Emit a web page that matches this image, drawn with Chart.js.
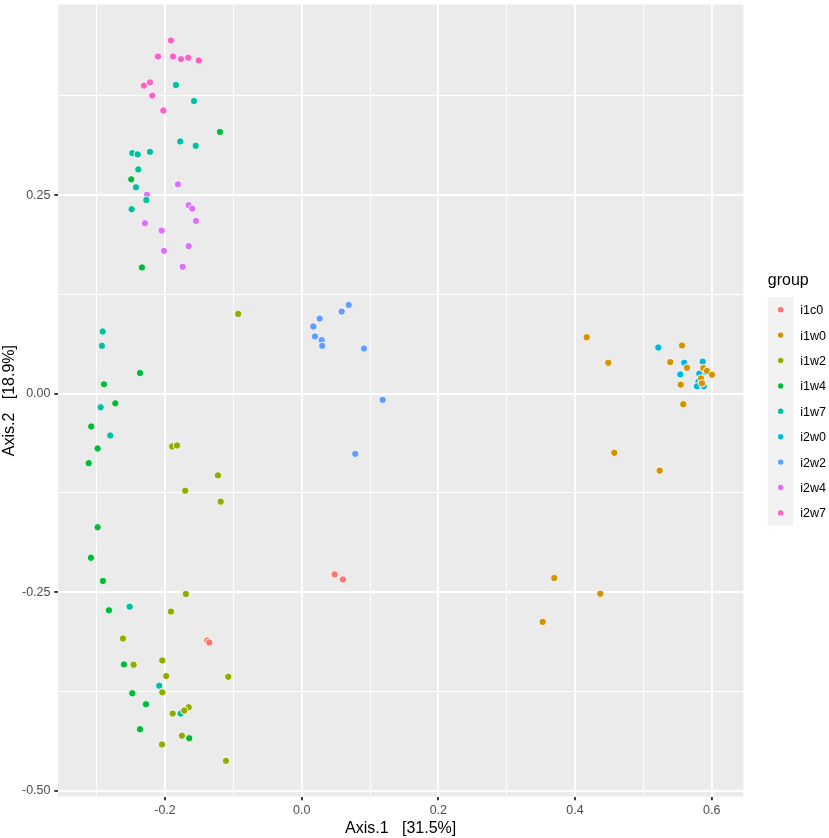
<!DOCTYPE html>
<html><head><meta charset="utf-8">
<script src="https://cdn.jsdelivr.net/npm/chart.js@4.4.0/dist/chart.umd.min.js"></script>
<style>html,body{margin:0;padding:0;background:#fff}canvas{display:block}</style>
</head><body>
<canvas id="c" width="829" height="838"></canvas>
<script>
// ---- data ----
const groups = ['i1c0','i1w0','i1w2','i1w4','i1w7','i2w0','i2w2','i2w4','i2w7'];
const groupColors = ['#F8766D','#D39200','#93AA00','#00BA38','#00C19F','#00B9E3','#619CFF','#DB72FB','#FF61C3'];

const i1c0_x = [-0.1382,-0.1352,0.0483,0.0604];
const i1c0_y = [-0.3108,-0.3133,-0.2276,-0.2339];

const i1w0_x = [0.4171,0.4487,0.4575,0.5239,0.5585,0.3697,0.4370,0.3527,0.5566,0.5394,0.5639,0.5547,0.5877,0.5932,0.6005,0.5844,0.5858];
const i1w0_y = [0.0710,0.0389,-0.0745,-0.0969,-0.0134,-0.2321,-0.2519,-0.2874,0.0606,0.0397,0.0326,0.0113,0.0321,0.0286,0.0238,0.0192,0.0129];

const i1w2_x = [-0.0928,-0.1894,-0.1825,-0.1225,-0.1704,-0.1185,-0.1694,-0.1913,-0.2615,-0.2459,-0.2040,-0.1982,-0.1074,-0.2040,-0.1654,-0.1718,-0.1888,-0.1752,-0.2044,-0.1108];
const i1w2_y = [0.1004,-0.0665,-0.0653,-0.1029,-0.1222,-0.1360,-0.2522,-0.2744,-0.3083,-0.3413,-0.3359,-0.3556,-0.3564,-0.3761,-0.3949,-0.3990,-0.4028,-0.4307,-0.4417,-0.4623];

const i1w4_x = [-0.1196,-0.2494,-0.2337,-0.2366,-0.2893,-0.2728,-0.3079,-0.2986,-0.3117,-0.2986,-0.3084,-0.2908,-0.2820,-0.2601,-0.2479,-0.2279,-0.2366,-0.1645];
const i1w4_y = [0.3295,0.2698,0.1589,0.0259,0.0117,-0.0122,-0.0414,-0.0690,-0.0875,-0.1682,-0.2067,-0.2359,-0.2728,-0.3409,-0.3773,-0.3911,-0.4225,-0.4338];

const i1w7_x = [-0.1840,-0.1576,-0.1777,-0.1551,-0.2479,-0.2400,-0.2220,-0.2391,-0.2425,-0.2274,-0.2488,-0.2912,-0.2923,-0.2942,-0.2801,-0.2517,-0.2084,-0.1771];
const i1w7_y = [0.3885,0.3684,0.3175,0.3120,0.3028,0.3012,0.3044,0.2823,0.2598,0.2438,0.2321,0.0782,0.0602,-0.0172,-0.0527,-0.2682,-0.3677,-0.4028];

const i2w0_x = [0.5219,0.5599,0.5869,0.5541,0.5910,0.5819,0.5807,0.5785,0.5885];
const i2w0_y = [0.0581,0.0389,0.0403,0.0242,0.0271,0.0251,0.0151,0.0092,0.0092];

const i2w2_x = [0.0688,0.0585,0.0263,0.0170,0.0195,0.0293,0.0301,0.0912,0.1185,0.0784];
const i2w2_y = [0.1117,0.1033,0.0945,0.0845,0.0719,0.0673,0.0602,0.0568,-0.0078,-0.0758];

const i2w4_x = [-0.1810,-0.2264,-0.1654,-0.1601,-0.1547,-0.2293,-0.2049,-0.1654,-0.2015,-0.1742];
const i2w4_y = [0.2635,0.2505,0.2372,0.2329,0.2175,0.2146,0.2053,0.1857,0.1798,0.1597];

const i2w7_x = [-0.1913,-0.2103,-0.1884,-0.1766,-0.1660,-0.1507,-0.2308,-0.2220,-0.2186,-0.2025];
const i2w7_y = [0.4446,0.4245,0.4245,0.4211,0.4229,0.4195,0.3878,0.3919,0.3752,0.3564];

const xMajorTicks = [-0.2,0,0.2,0.4,0.6];
const xTickLabels = ['-0.2','0.0','0.2','0.4','0.6'];
const xMinorTicks = [-0.3,-0.1,0.1,0.3,0.5];
const yMajorTicks = [-0.5,-0.25,0,0.25];
const yTickLabels = ['-0.50','-0.25','0.00','0.25'];
const yMinorTicks = [-0.375,-0.125,0.125,0.375];

const xTitle = 'Axis.1   [31.5%]';
const yTitle = 'Axis.2   [18.9%]';
const legendTitle = 'group';

// ---- build ----
const seriesX = [i1c0_x,i1w0_x,i1w2_x,i1w4_x,i1w7_x,i2w0_x,i2w2_x,i2w4_x,i2w7_x];
const seriesY = [i1c0_y,i1w0_y,i1w2_y,i1w4_y,i1w7_y,i2w0_y,i2w2_y,i2w4_y,i2w7_y];

const datasets = groups.map((g, i) => ({
  label: g,
  data: seriesX[i].map((x, k) => ({x: x, y: seriesY[i][k]})),
  backgroundColor: groupColors[i],
  borderColor: '#ffffff',
  borderWidth: 0.9,
  pointRadius: 3.7,
  pointHoverRadius: 3.7
}));

const FONT = "'Liberation Sans', Arial, Helvetica, sans-serif";
const TICK_SIZE = 12.5, TITLE_SIZE = 16;
const near = (a, b) => Math.abs(a - b) < 1e-6;
const isMajor = (arr, v) => arr.some(t => near(t, v));
const labelFor = (arr, labels, v) => { const i = arr.findIndex(t => near(t, v)); return i >= 0 ? labels[i] : ''; };

const panelBg = {
  id: 'panelBg',
  beforeDraw(chart) {
    const {ctx, chartArea: a} = chart;
    ctx.save();
    ctx.fillStyle = '#EBEBEB';
    ctx.fillRect(a.left, a.top, a.right - a.left, a.bottom - a.top);
    ctx.restore();
  }
};

const ggLegend = {
  id: 'ggLegend',
  afterDraw(chart) {
    const ctx = chart.ctx;
    const ds = chart.data.datasets;
    ctx.save();
    ctx.fillStyle = '#000';
    ctx.font = TITLE_SIZE + 'px ' + FONT;
    ctx.textBaseline = 'alphabetic';
    ctx.textAlign = 'left';
    ctx.fillText(legendTitle, 767.8, 285.3);
    const top = 297.0, step = 25.4, keyX = 767.7, keyW = 25.6;
    ctx.fillStyle = '#F2F2F2';
    ctx.fillRect(keyX, top, keyW, step * ds.length);
    ds.forEach((d, i) => {
      const cy = top + step * (i + 0.5);
      ctx.beginPath();
      ctx.arc(780.7, cy, 2.7, 0, Math.PI * 2);
      ctx.fillStyle = d.backgroundColor;
      ctx.fill();
      ctx.fillStyle = '#000';
      ctx.font = TICK_SIZE + 'px ' + FONT;
      ctx.fillText(d.label, 800.3, cy + 4.4);
    });
    ctx.restore();
  }
};

new Chart(document.getElementById('c'), {
  type: 'scatter',
  data: {datasets},
  plugins: [panelBg, ggLegend],
  options: {
    responsive: false,
    animation: false,
    events: [],
    layout: {padding: {left: 0, top: 2, right: 85.7, bottom: 0}},
    plugins: {legend: {display: false}, tooltip: {enabled: false}},
    scales: {
      x: {
        type: 'linear', min: -0.3566, max: 0.6463,
        afterBuildTicks(scale) {
          scale.ticks = xMajorTicks.concat(xMinorTicks).sort((a, b) => a - b).map(v => ({value: v}));
        },
        afterFit(scale) { scale.height = 41.5; scale.paddingLeft = 0; scale.paddingRight = 0; },
        border: {display: false},
        grid: {
          color: '#FFFFFF',
          lineWidth: c => isMajor(xMajorTicks, c.tick.value) ? 1.9 : 0.95,
          drawTicks: true,
          tickLength: 3.7,
          tickWidth: 1.9,
          tickColor: c => isMajor(xMajorTicks, c.tick.value) ? '#333333' : 'rgba(0,0,0,0)'
        },
        ticks: {
          autoSkip: false, maxRotation: 0, minRotation: 0, padding: 3.3,
          color: '#4D4D4D', font: {family: FONT, size: TICK_SIZE, lineHeight: 1.2},
          callback: v => labelFor(xMajorTicks, xTickLabels, v)
        },
        title: {display: true, text: xTitle, color: '#000', padding: {top: 0, bottom: 0},
          font: {family: FONT, size: TITLE_SIZE, lineHeight: 1.16}}
      },
      y: {
        type: 'linear', min: -0.5072, max: 0.4898,
        afterBuildTicks(scale) {
          scale.ticks = yMajorTicks.concat(yMinorTicks).sort((a, b) => a - b).map(v => ({value: v}));
        },
        afterFit(scale) { scale.width = 58; scale.paddingTop = 0; scale.paddingBottom = 0; },
        border: {display: false},
        grid: {
          color: '#FFFFFF',
          lineWidth: c => isMajor(yMajorTicks, c.tick.value) ? 1.9 : 0.95,
          drawTicks: true,
          tickLength: 3.7,
          tickWidth: 1.9,
          tickColor: c => isMajor(yMajorTicks, c.tick.value) ? '#333333' : 'rgba(0,0,0,0)'
        },
        ticks: {
          autoSkip: false, padding: 3.8,
          color: '#4D4D4D', font: {family: FONT, size: TICK_SIZE, lineHeight: 1.2},
          callback: v => labelFor(yMajorTicks, yTickLabels, v)
        },
        title: {display: true, text: yTitle, color: '#000', padding: {top: 0, bottom: 0},
          font: {family: FONT, size: TITLE_SIZE, lineHeight: 1.16}}
      }
    }
  }
});
</script>
</body></html>
